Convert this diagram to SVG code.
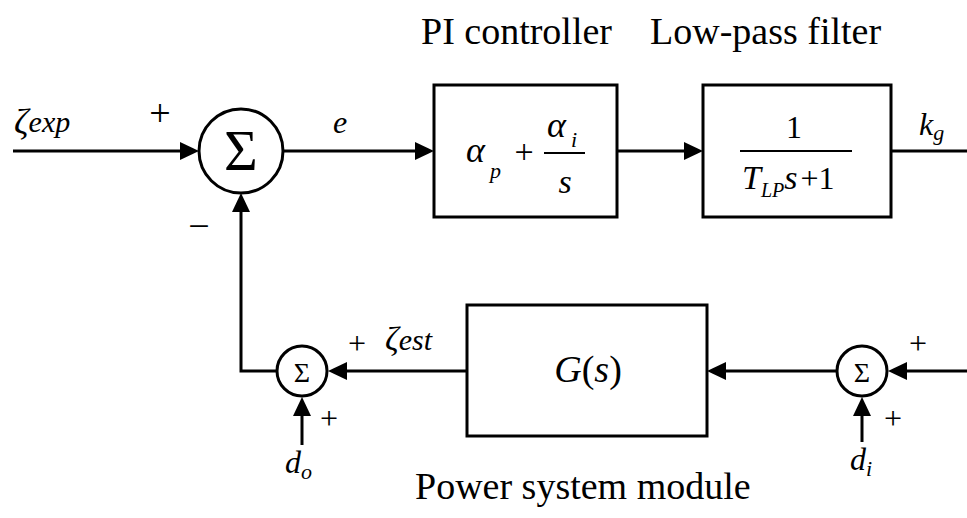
<svg xmlns="http://www.w3.org/2000/svg" width="967" height="518" viewBox="0 0 967 518">
<rect width="967" height="518" fill="#fff"/>
<g id="connectors">
<g fill="none" stroke="#000" stroke-width="3">
<path d="M13,151 H181"/>
<path d="M283,151 H416"/>
<path d="M617,151 H685"/>
<path d="M891,151 H967"/>
<path d="M967,371 H906"/>
<path d="M837,371 H725"/>
<path d="M467,371 H346"/>
<path d="M277,371 H241 V211"/>
<path d="M302,445 V415"/>
<path d="M862,442 V415"/>
</g>
<g fill="#000">
<polygon points="199,151 180,142 180,160"/>
<polygon points="434,151 415,142 415,160"/>
<polygon points="703,151 684,142 684,160"/>
<polygon points="888,371 907,362 907,380"/>
<polygon points="707,371 726,362 726,380"/>
<polygon points="328,371 347,362 347,380"/>
<polygon points="241,193 232,212 250,212"/>
<polygon points="302,397 293,416 311,416"/>
<polygon points="862,397 853,416 871,416"/>
</g>
</g>
<g id="labels">
<text font-family="Liberation Serif" font-style="italic" x="14" y="134" font-size="36">ζ<tspan font-size="30" dy="-2">exp</tspan></text>
<text font-family="Liberation Serif" x="160" y="126" font-size="38" text-anchor="middle">+</text>
<text font-family="Liberation Serif" x="199" y="239" font-size="38" text-anchor="middle">−</text>
<text font-family="Liberation Serif" font-style="italic" x="340" y="133" font-size="32" text-anchor="middle">e</text>
<text font-family="Liberation Serif" font-style="italic" x="919" y="135" font-size="32">k<tspan font-size="22" dy="5">g</tspan></text>
<text font-family="Liberation Serif" x="357" y="354" font-size="32" text-anchor="middle">+</text>
<text font-family="Liberation Serif" font-style="italic" x="385" y="350" font-size="34">ζ<tspan font-size="30">est</tspan></text>
<text font-family="Liberation Serif" x="329" y="429" font-size="32" text-anchor="middle">+</text>
<text font-family="Liberation Serif" font-style="italic" x="285" y="473" font-size="32">d<tspan font-size="22" dy="6">o</tspan></text>
<text font-family="Liberation Serif" x="918" y="354" font-size="32" text-anchor="middle">+</text>
<text font-family="Liberation Serif" x="893" y="429" font-size="32" text-anchor="middle">+</text>
<text font-family="Liberation Serif" font-style="italic" x="850" y="470" font-size="32">d<tspan font-size="22" dy="6">i</tspan></text>
<text font-family="Liberation Serif" x="421" y="44" font-size="38">PI controller</text>
<text font-family="Liberation Serif" x="650" y="44" font-size="38">Low-pass filter</text>
<text font-family="Liberation Serif" x="415" y="499" font-size="38">Power system module</text>
</g>
<g id="sum_main">
<circle cx="241" cy="151" r="42" fill="#fff" stroke="#000" stroke-width="3"/>
<text font-family="Liberation Serif" x="241" y="170" font-size="58" text-anchor="middle">Σ</text>
</g>
<g id="pi_controller">
<rect x="434" y="85" width="183" height="132" fill="#fff" stroke="#000" stroke-width="3"/>
<text font-family="Liberation Serif" font-style="italic" x="466" y="162" font-size="36">α</text>
<text font-family="Liberation Serif" font-style="italic" x="490" y="178" font-size="22">p</text>
<text font-family="Liberation Serif" x="524" y="163" font-size="34" text-anchor="middle">+</text>
<line x1="544" y1="153" x2="585" y2="153" stroke="#000" stroke-width="2"/>
<text font-family="Liberation Serif" font-style="italic" x="547" y="137" font-size="36">α</text>
<text font-family="Liberation Serif" font-style="italic" x="571" y="147" font-size="22">i</text>
<text font-family="Liberation Serif" font-style="italic" x="565" y="193" font-size="34" text-anchor="middle">s</text>
</g>
<g id="low_pass_filter">
<rect x="703" y="85" width="188" height="132" fill="#fff" stroke="#000" stroke-width="3"/>
<text font-family="Liberation Serif" x="794" y="138" font-size="32" text-anchor="middle">1</text>
<line x1="740" y1="151" x2="852" y2="151" stroke="#000" stroke-width="2"/>
<text font-family="Liberation Serif" font-style="italic" x="742" y="189" font-size="34">T<tspan font-size="20" dy="8">LP</tspan><tspan font-size="34" dy="-8">s</tspan><tspan font-style="normal" font-size="32" dx="3">+1</tspan></text>
</g>
<g id="power_system">
<rect x="467" y="305" width="240" height="131" fill="#fff" stroke="#000" stroke-width="3"/>
<text font-family="Liberation Serif" font-style="italic" x="588" y="382" font-size="38" text-anchor="middle">G<tspan font-style="normal">(</tspan>s<tspan font-style="normal">)</tspan></text>
</g>
<g id="sum_out">
<circle cx="302" cy="371" r="25" fill="#fff" stroke="#000" stroke-width="3"/>
<text font-family="Liberation Serif" x="302" y="382" font-size="28" text-anchor="middle">Σ</text>
</g>
<g id="sum_in">
<circle cx="862" cy="371" r="25" fill="#fff" stroke="#000" stroke-width="3"/>
<text font-family="Liberation Serif" x="862" y="382" font-size="28" text-anchor="middle">Σ</text>
</g>
</svg>
